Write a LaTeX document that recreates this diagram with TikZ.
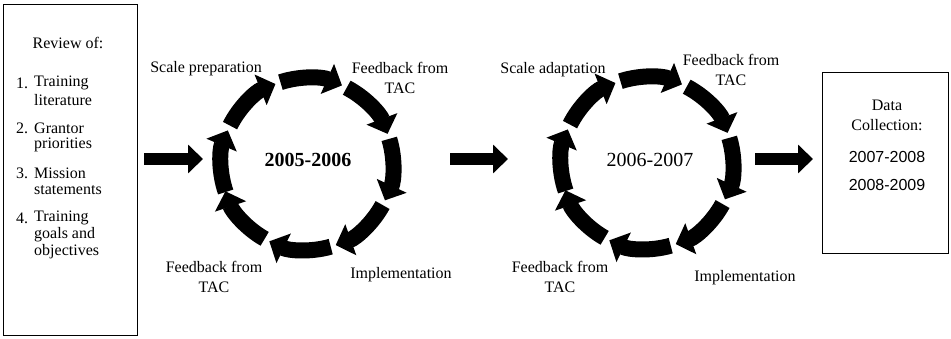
\documentclass[tikz,border=0pt]{standalone}
\usepackage{fontspec}
\setmainfont{Liberation Serif}
\setsansfont{Liberation Sans}
\usetikzlibrary{arrows.meta,calc}
\begin{document}
\begin{tikzpicture}[x=1pt,y=1pt,
  lbl/.style={font=\fontsize{16}{20}\selectfont, inner sep=0pt, align=center},
  lst/.style={font=\fontsize{16}{20}\selectfont, inner sep=0pt, anchor=west},
  yr/.style={font=\fontsize{20}{22}\selectfont, inner sep=0pt},
  sansyr/.style={font=\sffamily\fontsize{16}{18}\selectfont, inner sep=0pt},
  boxline/.style={draw=black, line width=1pt},
  bigarrow/.style={line width=12.5pt, -{Triangle[length=15pt,width=28pt]}},
  arcarrow/.style={line width=16pt, -{Triangle[length=16pt,width=32pt]}}
]
\useasboundingbox (0,0) rectangle (951,338);

% left box
\node[boxline, minimum width=134pt, minimum height=330pt, inner sep=0pt] (rev) at (70,168) {};
\node[lbl] (revt) at (68,295) {Review of:};
\node[lst] (n1) at (16,255) {1.};
\node[lst] (i1a) at (34,255) {Training};
\node[lst] (i1b) at (34,238) {literature};
\node[lst] (n2) at (16,210) {2.};
\node[lst] (i2a) at (34,210) {Grantor};
\node[lst] (i2b) at (34,193) {priorities};
\node[lst] (n3) at (16,165) {3.};
\node[lst] (i3a) at (34,165) {Mission};
\node[lst] (i3b) at (34,148) {statements};
\node[lst] (n4) at (16,120) {4.};
\node[lst] (i4a) at (34,120) {Training};
\node[lst] (i4b) at (34,103) {goals and};
\node[lst] (i4c) at (34,86) {objectives};

% right box
\node[boxline, minimum width=126pt, minimum height=180pt, inner sep=0pt] (dc) at (885,175) {};
\node[lbl] (dct) at (887,223) {Data\\Collection:};
\node[sansyr] (y1) at (887,181) {2007-2008};
\node[sansyr] (y2) at (887,153) {2008-2009};

% cycle centres
\coordinate (c1) at (307,174);
\coordinate (c2) at (647,175);

\node[yr, font=\bfseries\fontsize{20}{22}\selectfont] (t1) at (308,178) {2005-2006};
\node[yr] (t2) at (650,178) {2006-2007};

% cycle arrows
\foreach \c in {c1,c2}{
  \foreach \m in {178,132.5,87,41.5,-4,-49.5,-95,-140.5}{
    \draw[arcarrow] ($(\c)+(\m+21:86)$) arc[start angle=\m+21, end angle=\m-21, radius=86];
  }
}

% labels cycle 1
\node[lbl] (sp) at (206,269) {Scale preparation};
\node[lbl] (fb1) at (400,260.5) {Feedback from\\TAC};
\node[lbl] (im1) at (401,63) {Implementation};
\node[lbl] (fb2) at (214,61.5) {Feedback from\\TAC};

% labels cycle 2
\node[lbl] (sa) at (553,268) {Scale adaptation};
\node[lbl] (fb3) at (731,268.5) {Feedback from\\TAC};
\node[lbl] (im2) at (745,60) {Implementation};
\node[lbl] (fb4) at (560,61.5) {Feedback from\\TAC};

% horizontal arrows
\coordinate (a1s) at (144,179);
\coordinate (a1e) at (203,179);
\coordinate (a2s) at (450,179);
\coordinate (a2e) at (508,179);
\coordinate (a3s) at (755,179);
\coordinate (a3e) at (813,179);
\draw[bigarrow] (a1s) -- (a1e);
\draw[bigarrow] (a2s) -- (a2e);
\draw[bigarrow] (a3s) -- (a3e);
\end{tikzpicture}
\end{document}
